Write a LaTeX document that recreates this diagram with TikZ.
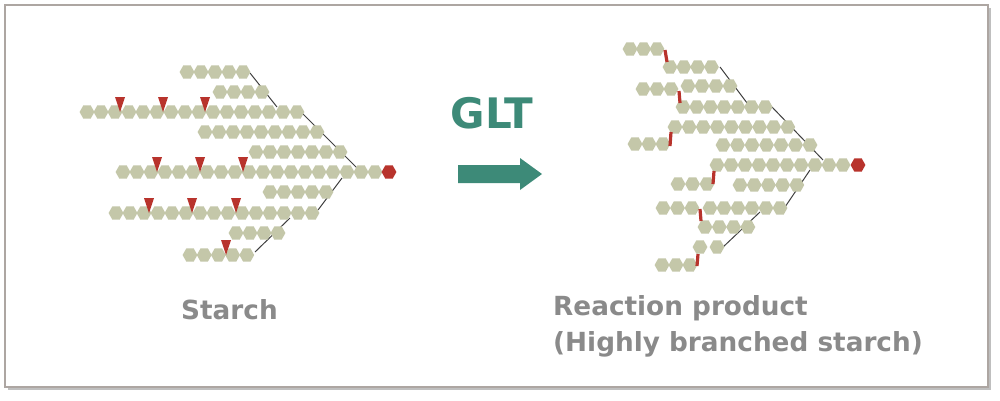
\documentclass[tikz,border=0pt]{standalone}
\usepackage{fontspec}
\setmainfont{DejaVu Sans}
\begin{document}
\begin{tikzpicture}[x=1pt,y=-1pt]
\definecolor{hexc}{HTML}{C4C7A9}
\definecolor{redc}{HTML}{B8332C}
\definecolor{teal}{HTML}{3D8A78}
\definecolor{txtg}{HTML}{8A8A8A}
\definecolor{frame}{HTML}{ADA6A2}
\tikzset{link/.style={draw=black!75,line width=1pt},
 bar/.style={draw=redc,line width=3.2pt},
 lbl/.style={text=txtg,font=\bfseries\fontsize{26.3}{30}\selectfont,inner sep=0pt,anchor=west}}
\newcommand\hexpath{+(-7.4,0) -- +(-3.7,-6.6) -- +(3.7,-6.6) -- +(7.4,0) -- +(3.7,6.6) -- +(-3.7,6.6) -- cycle}
\newcommand\hexrow[4]{\foreach \i in {1,...,#3}{\fill[hexc] ({#1+(\i-1)*#4},#2) \hexpath;}}
\newcommand\redhex[2]{\fill[redc] (#1,#2) \hexpath;}
\newcommand\tri[2]{\fill[redc] (#1,#2) -- +(-5,-15) -- +(5,-15) -- cycle;}
\useasboundingbox (0,0) rectangle (1000,400);
\fill[white] (0,0) rectangle (1000,400);
% frame with shadow
\fill[black!25] (8,8) rectangle (991,390);
\fill[white,draw=frame,line width=1.2pt] (5,5) rectangle (988,387);
% ---- left: starch ----
\draw[link] (250,73) -- (277,107);
\draw[link] (302,113) -- (357,168);
\draw[link] (342,178) -- (318,210);
\draw[link] (290,218) -- (255,252);
\hexrow{187}{72}{5}{14}
\hexrow{220}{92}{4}{14}
\hexrow{87}{112}{16}{14}
\hexrow{205}{132}{9}{14}
\hexrow{256}{152}{7}{14}
\hexrow{123}{172}{19}{14}
\redhex{389}{172}
\hexrow{270}{192}{5}{14}
\hexrow{116}{213}{15}{14}
\hexrow{236}{233}{4}{14}
\hexrow{190}{255}{5}{14.2}
\tri{120}{112}\tri{163}{112}\tri{205}{112}
\tri{157}{172}\tri{200}{172}\tri{243}{172}
\tri{149}{213}\tri{192}{213}\tri{236}{213}
\tri{226}{255}
% ---- middle ----
\node[text=teal,font=\bfseries\fontsize{42}{48}\selectfont,inner sep=0pt] (glt) at (492,113) {GLT};
\fill[teal] (458,165) -- (520,165) -- (520,158) -- (542,174) -- (520,190) -- (520,183) -- (458,183) -- cycle;
% ---- right: product ----
\draw[link] (720,67) -- (747,103);
\draw[link] (772,107) -- (823,160);
\draw[link] (810,170) -- (785,207);
\draw[link] (760,212) -- (722,248);
\hexrow{630}{49}{3}{13.5}
\hexrow{670}{67}{4}{13.8}
\hexrow{688}{86}{4}{14}
\hexrow{643}{89}{3}{14}
\hexrow{683}{107}{7}{13.7}
\hexrow{675}{127}{9}{14.1}
\hexrow{635}{144}{3}{14}
\hexrow{723}{145}{7}{14.5}
\hexrow{717}{165}{10}{14}
\redhex{858}{165}
\hexrow{678}{184}{3}{14.5}
\hexrow{740}{185}{5}{14.2}
\hexrow{663}{208}{3}{14.5}
\hexrow{710}{208}{6}{14}
\hexrow{705}{227}{4}{14.3}
\hexrow{700}{247}{2}{17}
\hexrow{662}{265}{3}{14}
\draw[bar] (665,50) -- (667,62);
\draw[bar] (679,91) -- (680,103);
\draw[bar] (671,132) -- (670,146);
\draw[bar] (714,171) -- (713,184);
\draw[bar] (700,209) -- (701,221);
\draw[bar] (698,254) -- (697,266);
% ---- labels ----
\node[lbl] (starch) at (181,310) {Starch};
\node[lbl] (prod) at (553,308) {Reaction product};
\node[lbl] (prod2) at (553,344) {(Highly branched starch)};
\end{tikzpicture}
\end{document}
